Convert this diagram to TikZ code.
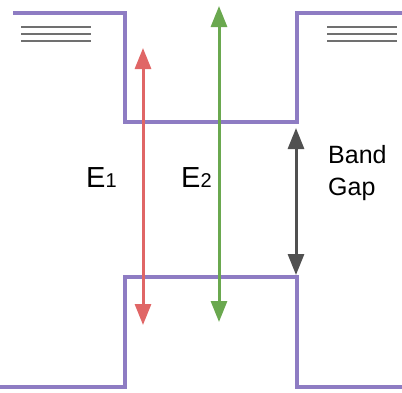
\documentclass[tikz,border=0pt]{standalone}
\usepackage{fontspec}
\setmainfont{Liberation Sans}
\usetikzlibrary{arrows.meta}
\definecolor{bandpurple}{HTML}{8E7CC3}
\definecolor{arrred}{HTML}{E06666}
\definecolor{arrgreen}{HTML}{6AA84F}
\definecolor{arrgray}{HTML}{505050}
\definecolor{lvlgray}{HTML}{707070}
\tikzset{
  band/.style={draw=bandpurple, line width=4pt, line join=miter},
  level/.style={draw=lvlgray, line width=2pt},
  darrow/.style={line width=3pt, {Triangle[width=16pt,length=21pt]}-{Triangle[width=16pt,length=21pt]}},
  lbl/.style={inner sep=0pt, anchor=base west}
}
\begin{document}
\begin{tikzpicture}[x=1pt,y=-1pt]
\useasboundingbox (0,0) rectangle (402,392);
% band edges
\draw[band] (13,13) -- (125,13) -- (125,122) -- (297,122) -- (297,13) -- (404,13);
\draw[band] (-2,387) -- (125,387) -- (125,277) -- (297,277) -- (297,387) -- (404,387);
% levels
\foreach \yy in {27,34,41} {
  \draw[level] (21,\yy) -- (91,\yy);
  \draw[level] (327,\yy) -- (397,\yy);
}
% arrows
\coordinate (r1) at (143,48);
\coordinate (r2) at (143,325);
\coordinate (g1) at (219,6);
\coordinate (g2) at (219,322);
\coordinate (k1) at (296,128);
\coordinate (k2) at (296,275);
\draw[darrow, draw=arrred, fill=arrred] (r1) -- (r2);
\draw[darrow, draw=arrgreen, fill=arrgreen] (g1) -- (g2);
\draw[darrow, draw=arrgray, fill=arrgray] (k1) -- (k2);
% labels
\node[lbl] (e1) at (86,187) {\fontsize{29}{32}\selectfont E\fontsize{20}{22}\selectfont 1};
\node[lbl] (e2) at (181,187) {\fontsize{29}{32}\selectfont E\fontsize{20}{22}\selectfont 2};
\node[lbl] (bg1) at (328,163) {\fontsize{25}{28}\selectfont Band};
\node[lbl] (bg2) at (328,195) {\fontsize{25}{28}\selectfont Gap};
\end{tikzpicture}
\end{document}
